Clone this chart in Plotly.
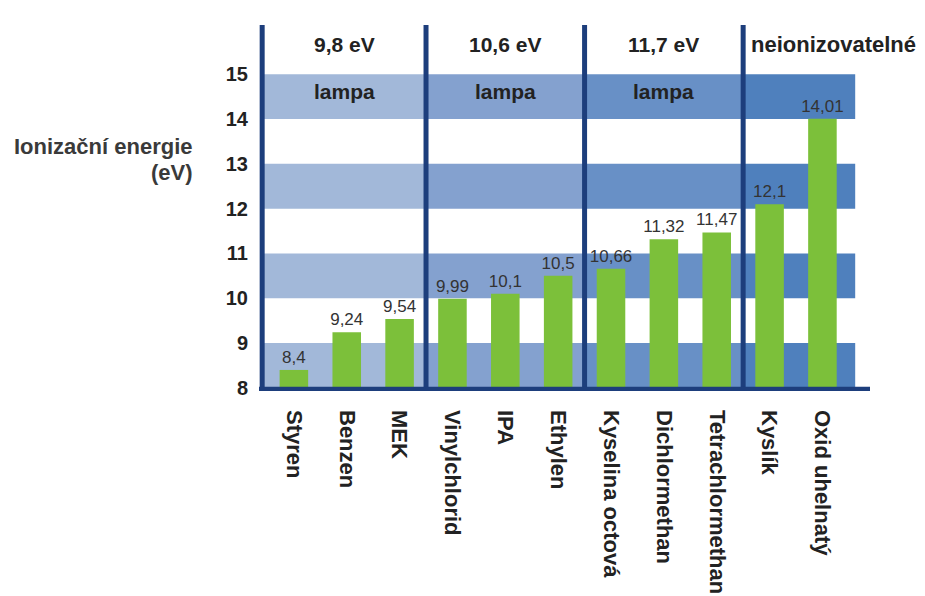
import plotly.graph_objects as go

categories = ["Styren", "Benzen", "MEK", "Vinylchlorid", "IPA", "Ethylen",
              "Kyselina octová", "Dichlormethan", "Tetrachlormethan", "Kyslík", "Oxid uhelnatý"]
values = [8.4, 9.24, 9.54, 9.99, 10.1, 10.5, 10.66, 11.32, 11.47, 12.1, 14.01]
value_labels = ["8,4", "9,24", "9,54", "9,99", "10,1", "10,5", "10,66", "11,32", "11,47", "12,1", "14,01"]
y_ticks = [8, 9, 10, 11, 12, 13, 14, 15]
band_starts = [8, 10, 12, 14]
section_titles = ["9,8 eV", "10,6 eV", "11,7 eV", "neionizovatelné"]
section_subtitles = ["lampa", "lampa", "lampa", ""]
section_bounds = [(-0.6, 2.5), (2.5, 5.5), (5.5, 8.5), (8.5, 10.62)]
section_colors = ["#a2b8d9", "#84a1cf", "#6890c6", "#4f80bd"]

x = list(range(len(categories)))
YMIN, YMAX = 8, 16.1
YLO = 7.93
XMIN, XMAX = -0.66, 10.9
NAVY = "#1d3e7c"
FONT = "Liberation Sans, Arial, sans-serif"

fig = go.Figure()
fig.add_trace(go.Bar(
    x=x, y=[v - YMIN for v in values], base=YMIN,
    width=0.54, marker=dict(color="#7cc03a", line=dict(width=0)),
    text=value_labels, textposition="outside", cliponaxis=False,
    constraintext="none",
    textfont=dict(family=FONT, size=17, color="#333333"),
    hoverinfo="skip",
))

shapes = []
for (x0, x1), col in zip(section_bounds, section_colors):
    for b in band_starts:
        shapes.append(dict(type="rect", xref="x", yref="y", x0=x0, x1=x1, y0=b, y1=b + 1,
                           fillcolor=col, line=dict(width=0), layer="below"))
for x0, _ in section_bounds:
    shapes.append(dict(type="line", xref="x", yref="y", x0=x0, x1=x0, y0=YMIN - 0.03, y1=YMAX,
                       line=dict(color=NAVY, width=5)))
shapes.append(dict(type="line", xref="x", yref="y", x0=XMIN, x1=XMAX, y0=YMIN - 0.03, y1=YMIN - 0.03,
                   line=dict(color=NAVY, width=5)))

annotations = []
for (x0, x1), t, s in zip(section_bounds, section_titles, section_subtitles):
    cx = (x0 + x1) / 2 if s else x0 + 0.12
    annotations.append(dict(x=cx, y=15.66, xref="x", yref="y", text="<b>%s</b>" % t, showarrow=False,
                            xanchor="center" if s else "left",
                            font=dict(family=FONT, size=21 if s else 22, color="#222222")))
    if s:
        annotations.append(dict(x=cx, y=14.62, xref="x", yref="y", text="<b>%s</b>" % s, showarrow=False,
                                font=dict(family=FONT, size=21, color="#222222")))
annotations.append(dict(xref="paper", yref="y", x=-0.105, y=13.38, xanchor="right",
                        text="<b>Ionizační energie</b>", showarrow=False,
                        font=dict(family=FONT, size=22, color="#3a3a3a")))
annotations.append(dict(xref="paper", yref="y", x=-0.105, y=12.8, xanchor="right",
                        text="<b>(eV)</b>", showarrow=False,
                        font=dict(family=FONT, size=22, color="#3a3a3a")))

fig.update_layout(
    width=925, height=596,
    margin=dict(l=259, r=55, t=25, b=205),
    paper_bgcolor="white", plot_bgcolor="white",
    showlegend=False,
    shapes=shapes, annotations=annotations,
    xaxis=dict(range=[XMIN, XMAX], tickvals=x, ticktext=["<b>%s</b>" % c for c in categories],
               tickangle=90, showgrid=False, zeroline=False, showline=False, ticks="",
               ticklabelstandoff=18, automargin=False,
               tickfont=dict(family=FONT, size=22, color="#222222")),
    yaxis=dict(range=[YLO, YMAX], tickvals=y_ticks, ticktext=["<b>%d</b>" % t for t in y_ticks],
               showgrid=False, zeroline=False, showline=False, ticks="",
               ticklabelstandoff=10, automargin=False,
               tickfont=dict(family=FONT, size=20, color="#222222")),
)

fig.write_html("out.html")
